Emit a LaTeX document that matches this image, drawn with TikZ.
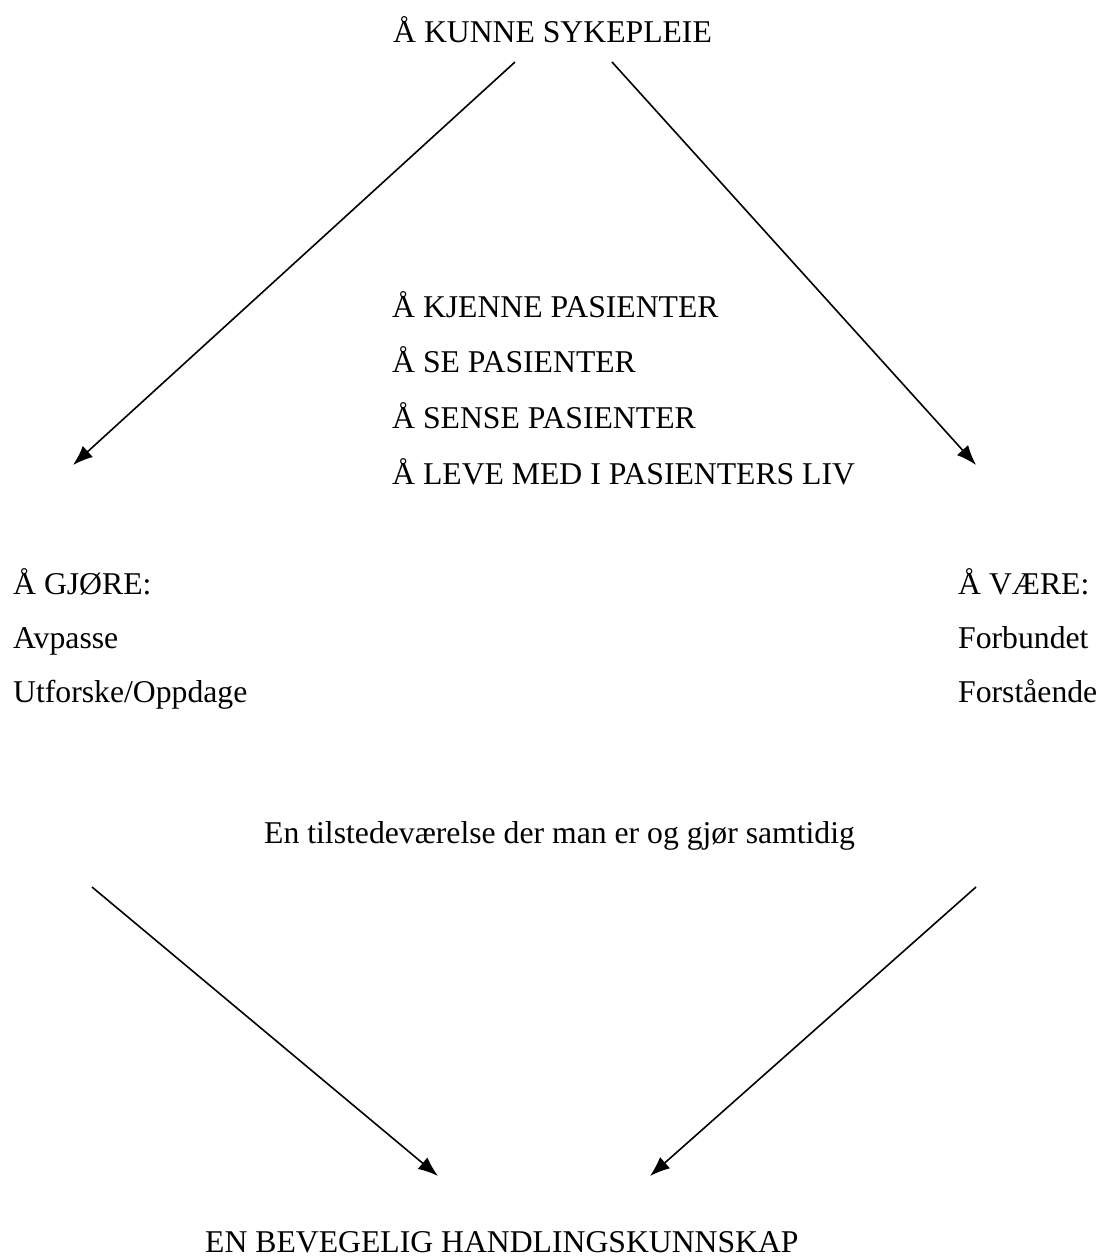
\documentclass[tikz,border=0pt]{standalone}
\usepackage{fontspec}
\setmainfont{Liberation Serif}
\usepackage{tikz}
\usetikzlibrary{arrows.meta,calc,positioning}

\tikzset{
  txt/.style={anchor=base west, inner sep=0pt, font=\fontsize{31.7pt}{38pt}\selectfont},
  pil/.style={line width=1.6pt, -{Latex[length=20pt,width=15pt]}}
}

\begin{document}
\begin{tikzpicture}[x=1pt,y=-1pt]
            \useasboundingbox (0,0) rectangle (1100,1258);
            % Top heading
            \node[txt] (kunne) at (393,42) {Å KUNNE SYKEPLEIE};
            % Middle block
            \node[txt] (kjenne) at (392,317) {Å KJENNE PASIENTER};
            \node[txt] (se) at (392,372) {Å SE PASIENTER};
            \node[txt] (sense) at (392,428) {Å SENSE PASIENTER};
            \node[txt] (leve) at (392,484) {Å LEVE MED I PASIENTERS LIV};
            % Left side: doing
            \node[txt] (gjore) at (13,594) {Å GJØRE:};
            \node[txt] (avpasse) at (13,648) {Avpasse};
            \node[txt] (utforske) at (13,702) {Utforske/Oppdage};
            % Right side: being
            \node[txt] (vaere) at (958,594) {Å VÆRE:};
            \node[txt] (forbundet) at (958,648) {Forbundet};
            \node[txt] (forstaaende) at (958,702) {Forstående};
            % Presence line and bottom heading
            \node[txt] (tilstede) at (264,843) {En tilstedeværelse der man er og gjør samtidig};
            \node[txt] (bevegelig) at (205,1252) {EN BEVEGELIG HANDLINGSKUNNSKAP};
            % Arrow ends
            \coordinate (tl) at (515,62);
            \coordinate (tr) at (612,62);
            \coordinate (ml) at (73,465);
            \coordinate (mr) at (976,465);
            \coordinate (bl) at (92,887);
            \coordinate (br) at (976,887);
            \coordinate (el) at (438,1176);
            \coordinate (er) at (650,1176);
            % Arrows
            \draw[pil] (tl) -- (ml);
            \draw[pil] (tr) -- (mr);
            \draw[pil] (bl) -- (el);
            \draw[pil] (br) -- (er);
\end{tikzpicture}
\end{document}
